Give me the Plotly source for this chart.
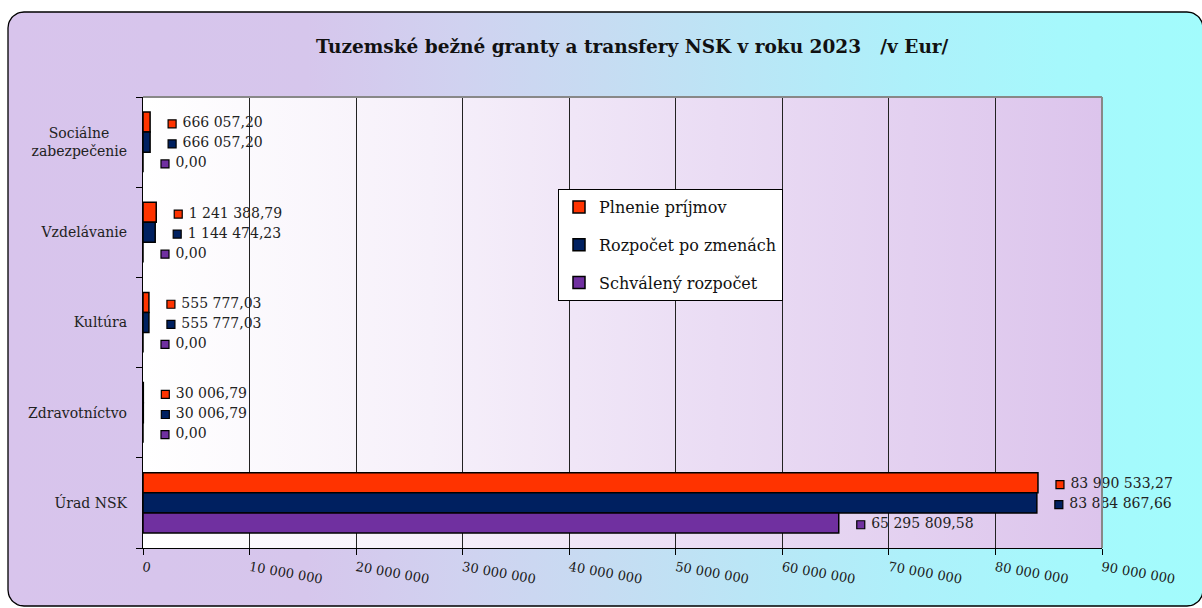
import numpy as np
import plotly.graph_objects as go

# ---------------- data ----------------
categories = ["Sociálne zabezpečenie", "Vzdelávanie", "Kultúra", "Zdravotníctvo", "Úrad NSK"]
category_labels = ["Sociálne\u00a0\u00a0\u00a0\u00a0<br>zabezpečenie", "Vzdelávanie", "Kultúra", "Zdravotníctvo", "Úrad NSK"]
series_names = ["Plnenie príjmov", "Rozpočet po zmenách", "Schválený rozpočet"]
plnenie = [666057.20, 1241388.79, 555777.03, 30006.79, 83990533.27]
rozpocet = [666057.20, 1144474.23, 555777.03, 30006.79, 83884867.66]
schvaleny = [0.00, 0.00, 0.00, 0.00, 65295809.58]
x_tick_values = [0, 10e6, 20e6, 30e6, 40e6, 50e6, 60e6, 70e6, 80e6, 90e6]
x_tick_labels = ["0", "10 000 000", "20 000 000", "30 000 000", "40 000 000", "50 000 000",
                 "60 000 000", "70 000 000", "80 000 000", "90 000 000"]
title_text = "Tuzemské bežné granty a transfery NSK v roku 2023\u00a0\u00a0\u00a0/v Eur/"

# ---------------- style ----------------
W, H = 1202, 608
colors = ["#FF3300", "#002060", "#7030A0"]
FONT = "DejaVu Serif"
PX0, PX1, PY0, PY1 = 143, 1102, 97, 548   # plot area in pixels
XMAX = 90e6
BARGAP = 0.333
LABEL_OFFSET_PX = 22


def fmt(v):
    s = f"{v:,.2f}"
    return s.replace(",", " ").replace(".", ",")


fig = go.Figure()

# ---- background (paper) on a pixel-coordinate helper subplot ----
def rounded_rect(x0, y0, x1, y1, r, n=12):
    pts = []
    corners = [(x1 - r, y0 + r, -90, 0), (x1 - r, y1 - r, 0, 90),
               (x0 + r, y1 - r, 90, 180), (x0 + r, y0 + r, 180, 270)]
    for cx, cy, a0, a1 in corners:
        for a in np.linspace(np.radians(a0), np.radians(a1), n):
            pts.append((cx + r * np.cos(a), cy + r * np.sin(a)))
    pts.append(pts[0])
    return [p[0] for p in pts], [p[1] for p in pts]

fx, fy = rounded_rect(8, 12, 1203, 606, 16)
fig.add_trace(go.Scatter(
    x=fx, y=fy, xaxis="x", yaxis="y", mode="lines", fill="toself",
    line=dict(color="#000000", width=1.3),
    fillgradient=dict(type="horizontal", colorscale=[
        [0.0, "#D8C4EC"], [0.25, "#D6C6EC"], [0.38, "#D0D2F0"], [0.5, "#C6DCF2"],
        [0.62, "#BAE6F6"], [0.75, "#AEF0FA"], [0.88, "#A6F8FC"], [1.0, "#A2FCFC"]]),
    hoverinfo="skip", showlegend=False))

# plot-area gradient
fig.add_trace(go.Scatter(
    x=[PX0, PX1, PX1, PX0, PX0], y=[PY0, PY0, PY1, PY1, PY0], xaxis="x", yaxis="y",
    mode="lines", fill="toself", line=dict(width=0, color="rgba(0,0,0,0)"),
    fillgradient=dict(type="horizontal", colorscale=[
        [0.0, "#FFFFFF"], [0.3, "#F6F0FA"], [0.6, "#EADCF4"], [1.0, "#DCC4EC"]]),
    hoverinfo="skip", showlegend=False))

# ---- bars ----
pos = list(range(len(categories)))
series = [plnenie, rozpocet, schvaleny]
for i, (name, vals) in enumerate(zip(series_names, series)):
    fig.add_trace(go.Bar(
        name=name, y=pos, x=vals, orientation="h", xaxis="x2", yaxis="y2",
        marker=dict(color=colors[i], line=dict(color="#000000", width=1.5)),
        legendgroup=name, hovertemplate="%{x:,.2f}<extra>" + name + "</extra>"))

# ---- data labels (legend key + value) ----
bw = (1 - BARGAP) / 3
off = LABEL_OFFSET_PX * XMAX / (PX1 - PX0)
for i, (name, vals) in enumerate(zip(series_names, series)):
    fig.add_trace(go.Scatter(
        x=[v + off for v in vals], y=[p + (i - 1) * bw + 0.02 for p in pos],
        xaxis="x2", yaxis="y2", mode="markers+text",
        marker=dict(symbol="square", size=8, color=colors[i], line=dict(color="#000000", width=1.2)),
        text=["\u00a0" + fmt(v) for v in vals], textposition="middle right",
        textfont=dict(family=FONT, size=14, color="#222222"),
        legendgroup=name, showlegend=False, hoverinfo="skip", cliponaxis=False))

fig.update_layout(
    width=W, height=H,
    margin=dict(l=0, r=0, t=0, b=0, autoexpand=False),
    paper_bgcolor="#FFFFFF", plot_bgcolor="rgba(0,0,0,0)",
    separators=", ",
    barmode="group", bargap=BARGAP, bargroupgap=0,
    font=dict(family=FONT, size=14, color="#222222"),
    showlegend=True,
    legend=dict(x=558 / W, y=1 - 189 / H, xanchor="left", yanchor="top",
                bgcolor="#FFFFFF", bordercolor="#000000", borderwidth=1,
                font=dict(family=FONT, size=16, color="#111111"),
                tracegroupgap=14, itemwidth=30),
    xaxis=dict(domain=[0, 1], range=[0, W], visible=False, fixedrange=True, automargin=False),
    yaxis=dict(domain=[0, 1], range=[H, 0], visible=False, fixedrange=True, automargin=False),
    xaxis2=dict(domain=[PX0 / W, PX1 / W], anchor="y2", range=[0, XMAX], automargin=False,
                tickmode="array", tickvals=x_tick_values, ticktext=x_tick_labels,
                tickangle=10, ticks="outside", ticklen=6, tickcolor="#000000",
                showline=True, linecolor="#000000", linewidth=1.3,
                showgrid=True, gridcolor="#222222", gridwidth=1, zeroline=False,
                tickfont=dict(family=FONT, size=13, color="#1a1a1a")),
    yaxis2=dict(domain=[1 - PY1 / H, 1 - PY0 / H], anchor="x2", range=[4.5, -0.5], automargin=False,
                tickmode="array", tickvals=pos, ticktext=category_labels, ticks="",
                showline=True, linecolor="#000000", linewidth=1.3,
                showgrid=False, zeroline=False, ticklabelstandoff=12,
                minor=dict(tickmode="linear", tick0=0.5, dtick=1, ticks="outside",
                           ticklen=6, tickcolor="#000000", showgrid=False),
                tickfont=dict(family=FONT, size=14, color="#222222")),
    shapes=[
        dict(type="line", xref="x2 domain", yref="y2 domain", x0=0, x1=1, y0=1, y1=1,
             line=dict(color="#888888", width=2)),
        dict(type="line", xref="x2 domain", yref="y2 domain", x0=1, x1=1, y0=0, y1=1,
             line=dict(color="#888888", width=2)),
    ],
    annotations=[dict(text="<b>" + title_text + "</b>", xref="paper", yref="paper",
                      x=632 / W, y=1 - 47 / H, xanchor="center", yanchor="middle",
                      showarrow=False, font=dict(family=FONT, size=18.5, color="#111111"))],
)

fig.write_html("out.html", config={"displayModeBar": False},
               post_script="document.body.style.margin='0';document.body.style.overflow='hidden';")
